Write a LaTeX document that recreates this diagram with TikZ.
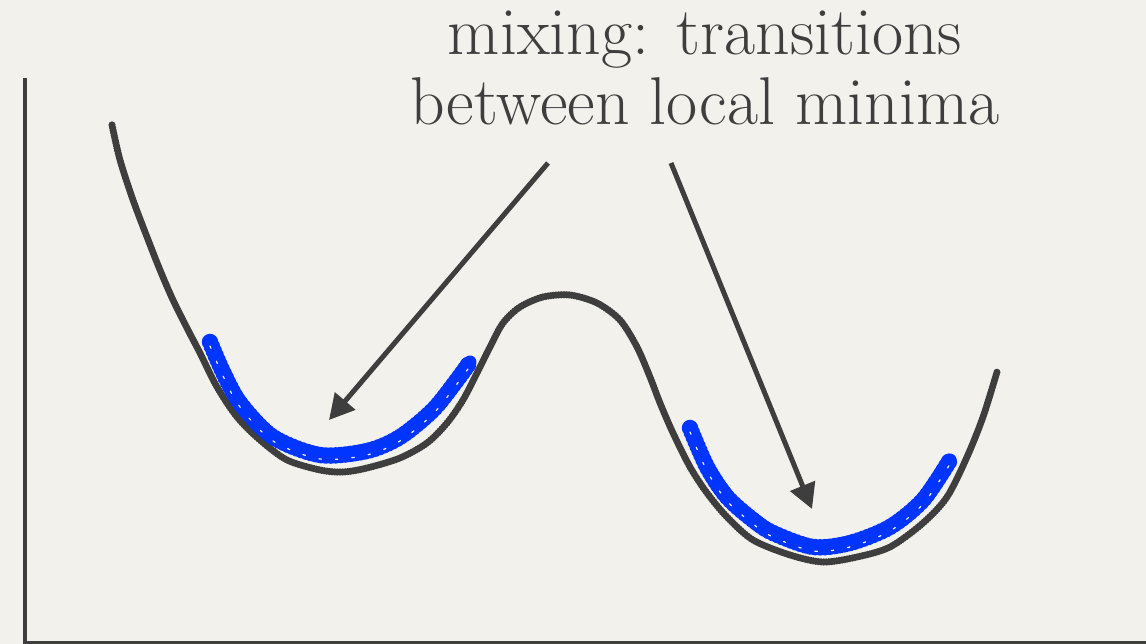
\documentclass[tikz,border=0pt]{standalone}
\usepackage{xcolor}
\usepackage{tikz}
\usetikzlibrary{arrows.meta}
\definecolor{paper}{RGB}{243,241,236}
\definecolor{ink}{RGB}{62,62,62}
\definecolor{crayonblue}{RGB}{0,52,255}
\begin{document}
\begin{tikzpicture}[
        x=0.02cm, y=-0.02cm,
        axis/.style={draw=ink, line width=0.1cm},
        landscape/.style={draw=ink, line width=2.9pt, line join=round, line cap=round, preaction={draw=ink, line width=4.1pt, line cap=round, dash pattern=on 0pt off 1.5pt}},
        crayon/.style={draw=crayonblue, line width=0.26cm, line join=round, line cap=round, preaction={draw=crayonblue, line width=0.33cm, line cap=round, dash pattern=on 0pt off 2.8pt}, postaction={draw=paper, line width=0.7pt, dash pattern=on 1.4pt off 8pt, transform canvas={yshift=-0.08cm}}},
        pointer/.style={-{Triangle[length=0.5cm, width=0.52cm]}, draw=ink, fill=ink, line width=0.1cm},
        title/.style={font=\fontsize{38.5}{40}\selectfont, text=ink, align=center, inner sep=0pt},
      ]
      \fill [paper] (0,0) rectangle (1146,644);
      \useasboundingbox (0,0) rectangle (1146,644);
      \draw [axis] (25,78) -- (25,644);
      \draw [axis] (25,644) -- (1146,644);
      \draw [landscape] plot [smooth, tension=0.5] coordinates {(112,125) (120,160) (133,200) (147,237) (160,270) (173,300) (188,330) (200,353) (217,387) (237,417) (260,440) (287,460) (320,470) (343,472) (367,468) (400,458) (427,443) (447,423) (463,400) (477,373) (490,347) (503,323) (520,307) (543,297) (570,295) (597,303) (620,320) (637,347) (650,377) (660,403) (673,433) (690,467) (707,493) (727,517) (753,540) (790,555) (823,562) (857,557) (890,547) (923,523) (947,497) (967,457) (983,417) (997,372)};
      \draw [crayon] plot [smooth, tension=0.5] coordinates {(210,342) (223,372) (240,403) (273,437) (320,455) (367,451) (400,437) (433,410) (457,380) (470,362)};
      \draw [crayon] plot [smooth, tension=0.5] coordinates {(690,428) (707,467) (727,497) (753,520) (773,533) (813,547) (850,543) (890,527) (923,500) (950,460)};
      \node [title] (caption) at (705,68) {mixing: transitions\\between local minima};
      \coordinate (lefttail) at (548,163);
      \coordinate (lefttip) at (329,420);
      \coordinate (righttail) at (671,163);
      \coordinate (righttip) at (812,509);
      \draw [pointer] (lefttail) -- (lefttip);
      \draw [pointer] (righttail) -- (righttip);
    \end{tikzpicture}
\end{document}
